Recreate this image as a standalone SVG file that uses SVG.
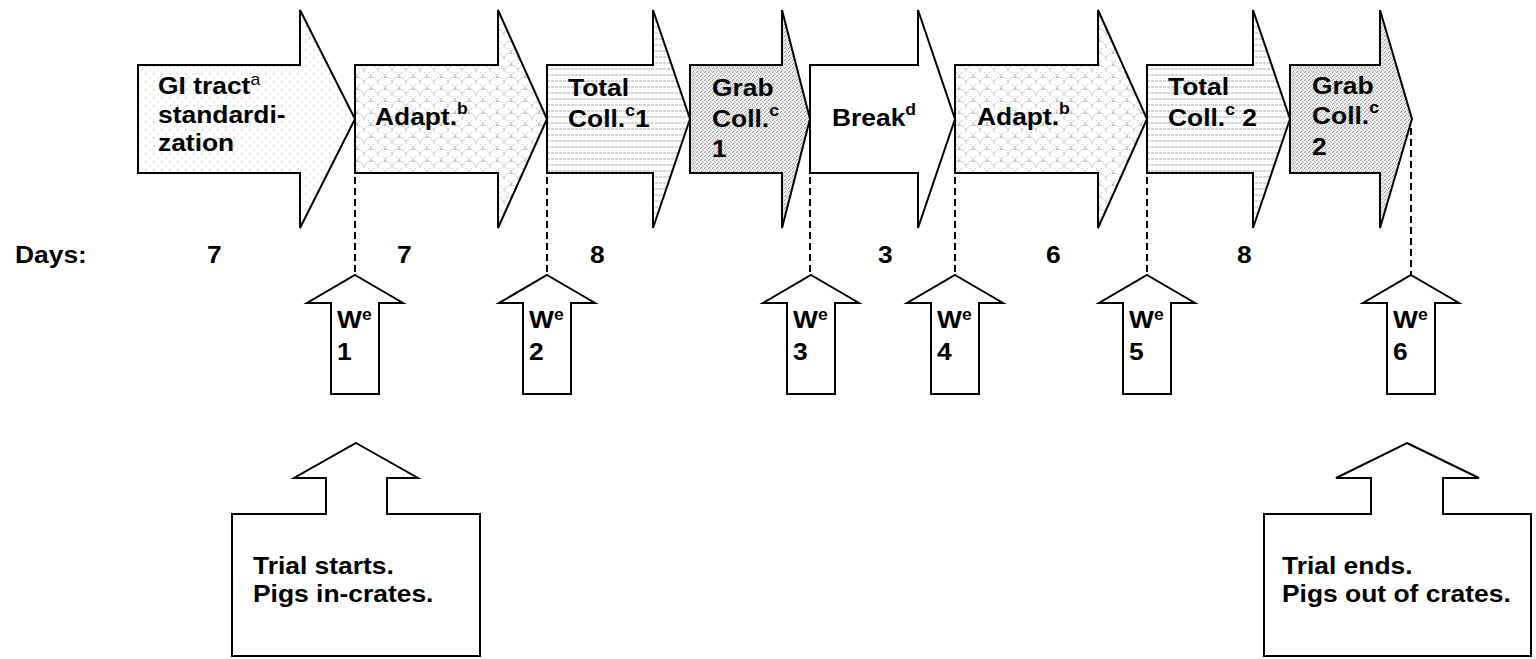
<svg xmlns="http://www.w3.org/2000/svg" width="1536" height="659" viewBox="0 0 1536 659">
<defs>
<style>
.t{font-family:"Liberation Sans",Arial,sans-serif;font-weight:bold;font-size:24px;fill:#000}
.s{font-size:16px}
.n{font-weight:normal}
.ol{stroke:#000;stroke-width:2;stroke-linejoin:miter}
.dash{stroke:#000;stroke-width:2;stroke-dasharray:7 4;fill:none}
</style>
<pattern id="dots" width="8" height="8" patternUnits="userSpaceOnUse">
<rect width="8" height="8" fill="#fff"/>
<circle cx="2" cy="2" r="0.7" fill="#aaa"/>
<circle cx="6" cy="6" r="0.6" fill="#c4c4c4"/>
</pattern>
<pattern id="scales" width="14" height="12" patternUnits="userSpaceOnUse">
<rect width="14" height="12" fill="#fff"/>
<path d="M0 12 A7 7 0 0 1 14 12 M-7 6 A7 7 0 0 1 7 6 M7 6 A7 7 0 0 1 21 6" fill="none" stroke="#999" stroke-width="0.8" stroke-dasharray="1.5 1"/>
</pattern>
<pattern id="hlines" width="4" height="6" patternUnits="userSpaceOnUse">
<rect width="4" height="6" fill="#fff"/>
<line x1="0" y1="3" x2="4" y2="3" stroke="#aaa" stroke-width="1" stroke-dasharray="2 1"/>
</pattern>
<pattern id="speckle" width="4" height="4" patternUnits="userSpaceOnUse">
<rect width="4" height="4" fill="#ececec"/>
<rect x="0" y="0" width="1" height="1" fill="#999"/>
<rect x="2" y="1" width="1" height="1" fill="#aaa"/>
<rect x="1" y="3" width="1" height="1" fill="#8a8a8a"/>
<rect x="3" y="2" width="1" height="1" fill="#bbb"/>
</pattern>
</defs>
<rect width="1536" height="659" fill="#fff"/>

<g id="connectors">
<line class="dash" x1="355" y1="177" x2="355" y2="275"/>
<line class="dash" x1="547" y1="177" x2="547" y2="275"/>
<line class="dash" x1="810" y1="177" x2="810" y2="275"/>
<line class="dash" x1="955" y1="177" x2="955" y2="275"/>
<line class="dash" x1="1147" y1="177" x2="1147" y2="275"/>
<line class="dash" x1="1411" y1="128" x2="1411" y2="275"/>
</g>

<g id="phase-gi">
<polygon class="ol" fill="url(#dots)" points="138,65 300,65 300,10 355,119 300,228 300,173 138,173"/>
<text class="t" transform="translate(158,94) scale(1.1,1)">GI tract<tspan class="s n" dy="-9">a</tspan><tspan x="0" y="29">standardi-</tspan><tspan x="0" y="57">zation</tspan></text>
</g>
<g id="phase-adapt1">
<polygon class="ol" fill="url(#scales)" points="355,65 498,65 498,10 547,119 498,228 498,173 355,173"/>
<text class="t" transform="translate(375,125) scale(1.1,1)">Adapt.<tspan class="s" dy="-11">b</tspan></text>
</g>
<g id="phase-total1">
<polygon class="ol" fill="url(#hlines)" points="547,65 653,65 653,10 690,119 653,228 653,173 547,173"/>
<text class="t" transform="translate(568,96) scale(1.1,1)">Total<tspan x="0" y="31">Coll.</tspan><tspan class="s" dy="-11">c</tspan><tspan dy="11">1</tspan></text>
</g>
<g id="phase-grab1">
<polygon class="ol" fill="url(#speckle)" points="690,65 782,65 782,10 810,119 782,228 782,173 690,173"/>
<text class="t" transform="translate(712,96) scale(1.1,1)">Grab<tspan x="0" y="31">Coll.</tspan><tspan class="s" dy="-11">c</tspan><tspan x="0" y="61">1</tspan></text>
</g>
<g id="phase-break">
<polygon class="ol" fill="#fff" points="810,65 918,65 918,10 955,119 918,228 918,173 810,173"/>
<text class="t" transform="translate(832,126) scale(1.1,1)">Break<tspan class="s" dy="-11">d</tspan></text>
</g>
<g id="phase-adapt2">
<polygon class="ol" fill="url(#scales)" points="955,65 1098,65 1098,10 1147,119 1098,228 1098,173 955,173"/>
<text class="t" transform="translate(977,125) scale(1.1,1)">Adapt.<tspan class="s" dy="-11">b</tspan></text>
</g>
<g id="phase-total2">
<polygon class="ol" fill="url(#hlines)" points="1147,65 1253,65 1253,10 1290,119 1253,228 1253,173 1147,173"/>
<text class="t" transform="translate(1168,95) scale(1.1,1)">Total<tspan x="0" y="31">Coll.</tspan><tspan class="s" dy="-11">c</tspan><tspan dy="11"> 2</tspan></text>
</g>
<g id="phase-grab2">
<polygon class="ol" fill="url(#speckle)" points="1290,65 1380,65 1380,10 1412,119 1380,228 1380,173 1290,173"/>
<text class="t" transform="translate(1312,94) scale(1.1,1)">Grab<tspan x="0" y="30">Coll.</tspan><tspan class="s" dy="-11">c</tspan><tspan x="0" y="61">2</tspan></text>
</g>

<g id="days">
<text class="t" transform="translate(15,263) scale(1.1,1)">Days:</text>
<text class="t" transform="translate(207,263) scale(1.1,1)">7</text>
<text class="t" transform="translate(397,263) scale(1.1,1)">7</text>
<text class="t" transform="translate(590,263) scale(1.1,1)">8</text>
<text class="t" transform="translate(878,263) scale(1.1,1)">3</text>
<text class="t" transform="translate(1046,263) scale(1.1,1)">6</text>
<text class="t" transform="translate(1237,263) scale(1.1,1)">8</text>
</g>

<g id="w1">
<polygon class="ol" fill="#fff" points="355,275 403,303 379,303 379,394 331,394 331,303 307,303"/>
<text class="t" transform="translate(337,328) scale(1.1,1)">W<tspan class="s" dy="-8">e</tspan><tspan x="0" y="32">1</tspan></text>
</g>
<g id="w2">
<polygon class="ol" fill="#fff" points="547,275 595,303 571,303 571,394 523,394 523,303 499,303"/>
<text class="t" transform="translate(529,328) scale(1.1,1)">W<tspan class="s" dy="-8">e</tspan><tspan x="0" y="32">2</tspan></text>
</g>
<g id="w3">
<polygon class="ol" fill="#fff" points="811,275 859,303 835,303 835,394 787,394 787,303 763,303"/>
<text class="t" transform="translate(793,328) scale(1.1,1)">W<tspan class="s" dy="-8">e</tspan><tspan x="0" y="32">3</tspan></text>
</g>
<g id="w4">
<polygon class="ol" fill="#fff" points="955,275 1003,303 979,303 979,394 931,394 931,303 907,303"/>
<text class="t" transform="translate(937,328) scale(1.1,1)">W<tspan class="s" dy="-8">e</tspan><tspan x="0" y="32">4</tspan></text>
</g>
<g id="w5">
<polygon class="ol" fill="#fff" points="1147,275 1195,303 1171,303 1171,394 1123,394 1123,303 1099,303"/>
<text class="t" transform="translate(1129,328) scale(1.1,1)">W<tspan class="s" dy="-8">e</tspan><tspan x="0" y="32">5</tspan></text>
</g>
<g id="w6">
<polygon class="ol" fill="#fff" points="1411,275 1459,303 1435,303 1435,394 1387,394 1387,303 1363,303"/>
<text class="t" transform="translate(1393,328) scale(1.1,1)">W<tspan class="s" dy="-8">e</tspan><tspan x="0" y="32">6</tspan></text>
</g>

<g id="trial-start">
<polygon class="ol" fill="#fff" points="356,443 418,478 387,478 387,514 480,514 480,656 232,656 232,514 326,514 326,478 294,478"/>
<text class="t" transform="translate(253,574) scale(1.1,1)">Trial starts.<tspan x="0" y="28">Pigs in-crates.</tspan></text>
</g>
<g id="trial-end">
<polygon class="ol" fill="#fff" points="1407,443 1479,478 1443,478 1443,514 1531,514 1531,656 1264,656 1264,514 1371,514 1371,478 1336,478"/>
<text class="t" transform="translate(1282,574) scale(1.1,1)">Trial ends.<tspan x="0" y="28">Pigs out of crates.</tspan></text>
</g>
</svg>
